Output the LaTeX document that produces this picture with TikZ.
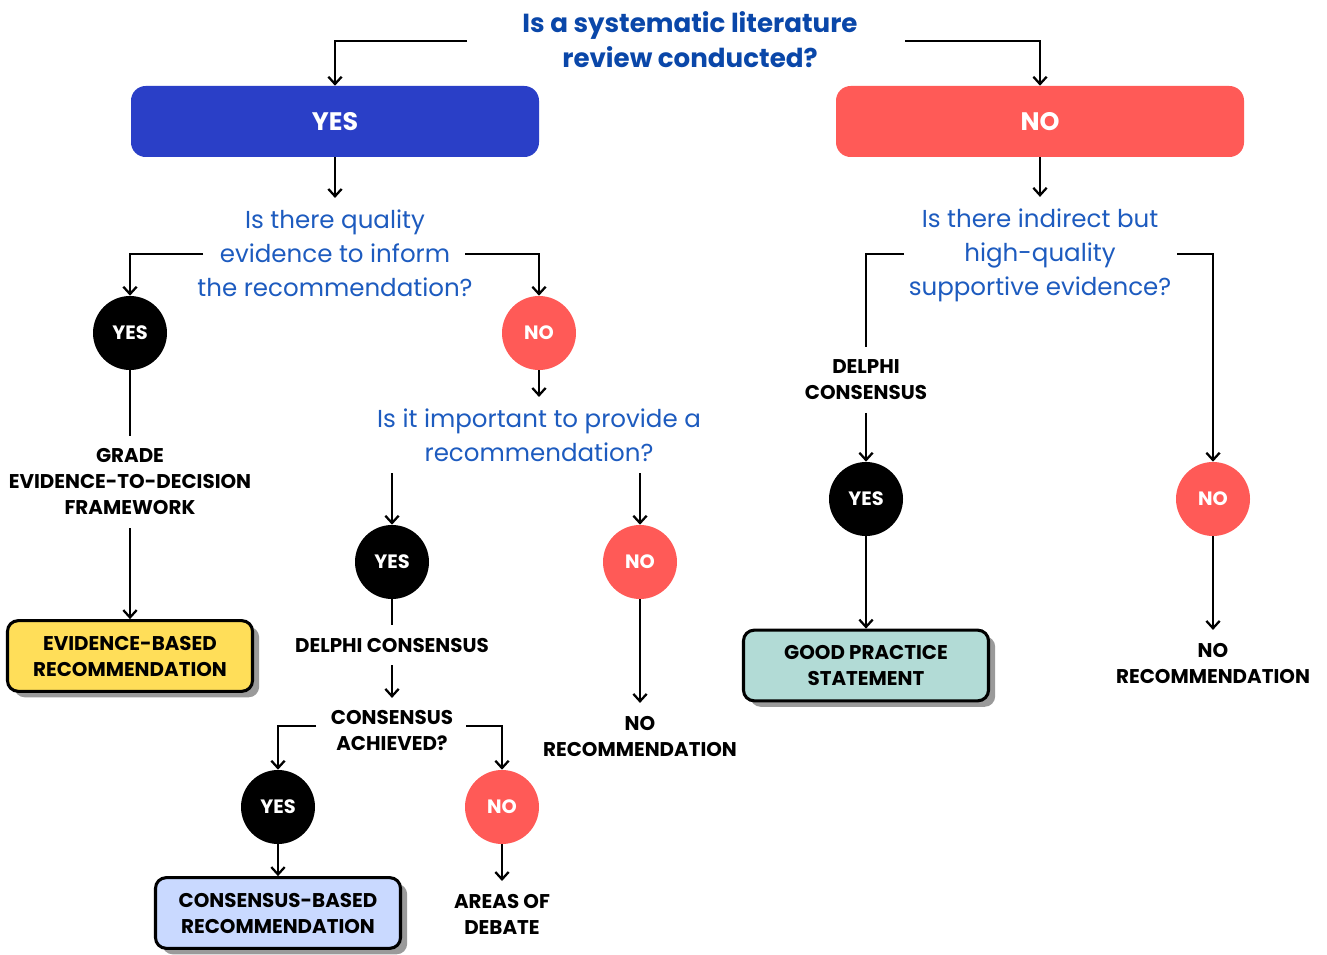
\documentclass[tikz,border=0pt]{standalone}
\usepackage{fontspec}
\setmainfont{Poppins}
\usetikzlibrary{arrows.meta,shadows}
\definecolor{tblue}{HTML}{0A47A9}
\definecolor{qblue}{HTML}{1D5BBF}
\definecolor{yesblue}{HTML}{2A3FC7}
\definecolor{nored}{HTML}{FF5A57}
\definecolor{ebyellow}{HTML}{FFDE59}
\definecolor{gpteal}{HTML}{B2DBD6}
\definecolor{cblue}{HTML}{C9D9FF}
\definecolor{shadowgray}{HTML}{9A9A9A}
\begin{document}
\begin{tikzpicture}[x=0.75pt,y=-0.75pt,
  ln/.style={line width=2pt},
  arr/.style={ln,-{Straight Barb[length=5.5pt,width=10pt,line width=1.7pt]}},
  yesc/.style={circle,fill=black,minimum size=55.5pt,inner sep=0pt,text=white,font=\bfseries\fontsize{14.5}{16}\selectfont},
  noc/.style={yesc,fill=nored},
  lab/.style={align=center,inner xsep=3pt,inner ysep=9.5pt,font=\bfseries\fontsize{14.9}{19.5}\selectfont},
  qq/.style={align=center,inner xsep=2pt,inner ysep=8.5pt,text=qblue,font=\fontsize{18.4}{25.5}\selectfont},
  bigbox/.style={rounded corners=11pt,minimum width=306pt,minimum height=53.25pt,text=white,font=\bfseries\fontsize{19}{21}\selectfont},
  outbox/.style={draw=black,line width=2.3pt,rounded corners=8pt,minimum width=183.75pt,minimum height=53pt,align=center,
    font=\bfseries\fontsize{14.9}{19.5}\selectfont,
    drop shadow={shadow xshift=5pt,shadow yshift=-4.5pt,fill=shadowgray,opacity=1}}
]
\useasboundingbox[fill=white] (0,0) rectangle (1327,955);

% top
\node[align=center,text=tblue,font=\bfseries\fontsize{19.6}{26.25}\selectfont] (t) at (690,40) {Is a systematic literature\\review conducted?};
\node[bigbox,fill=yesblue] (yb) at (335,121.5) {YES};
\node[bigbox,fill=nored] (nb) at (1040,121.5) {NO};
\coordinate (tl) at (467,41);
\coordinate (tr) at (905,41);
\draw[arr] (tl) -| (yb.north);
\draw[arr] (tr) -| (nb.north);

% left branch
\node[qq] (q1) at (335,253) {Is there quality\\evidence to inform\\the recommendation?};
\draw[arr] (yb.south) -- (q1.north);
\node[yesc] (y1) at (130,333) {YES};
\node[noc] (n1) at (539,333) {NO};
\coordinate (q1l) at (203,254);
\coordinate (q1r) at (465,254);
\draw[arr] (q1l) -| (y1.north);
\draw[arr] (q1r) -| (n1.north);

\node[lab] (grade) at (130,482) {GRADE\\EVIDENCE-TO-DECISION\\FRAMEWORK};
\draw[ln] (y1.south) -- (grade.north);
\node[outbox,fill=ebyellow] (ebr) at (130,656) {EVIDENCE-BASED\\RECOMMENDATION};
\draw[arr] (grade.south) -- (ebr.north);

\node[qq] (q2) at (539,435) {Is it important to provide a\\recommendation?};
\draw[arr] (n1.south) -- (q2.north);
\node[yesc] (y2) at (392,562) {YES};
\node[noc] (n2) at (640,562) {NO};
\draw[arr] (y2 |- q2.south) -- (y2.north);
\draw[arr] (n2 |- q2.south) -- (n2.north);

\node[lab] (dc) at (392,645) {DELPHI CONSENSUS};
\draw[ln] (y2.south) -- (dc.north);
\node[lab] (ca) at (392,731) {CONSENSUS\\ACHIEVED?};
\draw[arr] (dc.south) -- (ca.north);
\node[yesc] (y3) at (278,807) {YES};
\node[noc] (n3) at (502,807) {NO};
\coordinate (cal) at (316,726);
\coordinate (car) at (466,726);
\draw[arr] (cal) -| (y3.north);
\draw[arr] (car) -| (n3.north);
\node[outbox,fill=cblue] (cbr) at (278,913) {CONSENSUS-BASED\\RECOMMENDATION};
\draw[arr] (y3.south) -- (cbr.north);
\node[lab] (aod) at (502,914) {AREAS OF\\DEBATE};
\draw[arr] (n3.south) -- (aod.north);

\node[lab] (nr1) at (640,736) {NO\\RECOMMENDATION};
\draw[arr] (n2.south) -- (nr1.north);

% right branch
\node[qq] (q3) at (1040,255) {Is there indirect but\\high-quality\\supportive evidence?};
\draw[arr] (nb.south) -- (q3.north);
\coordinate (q3l) at (904,254);
\coordinate (q3r) at (1177,254);
\node[lab] (dc2) at (866,380) {DELPHI\\CONSENSUS};
\draw[ln] (q3l) -| (dc2.north);
\node[yesc] (y4) at (866,499) {YES};
\node[noc] (n4) at (1213,499) {NO};
\draw[arr] (dc2.south) -- (y4.north);
\node[outbox,fill=gpteal] (gps) at (866,665.5) {GOOD PRACTICE\\STATEMENT};
\draw[arr] (y4.south) -- (gps.north);
\draw[arr] (q3r) -| (n4.north);
\node[lab] (nr2) at (1213,663) {NO\\RECOMMENDATION};
\draw[arr] (n4.south) -- (nr2.north);
\end{tikzpicture}
\end{document}
